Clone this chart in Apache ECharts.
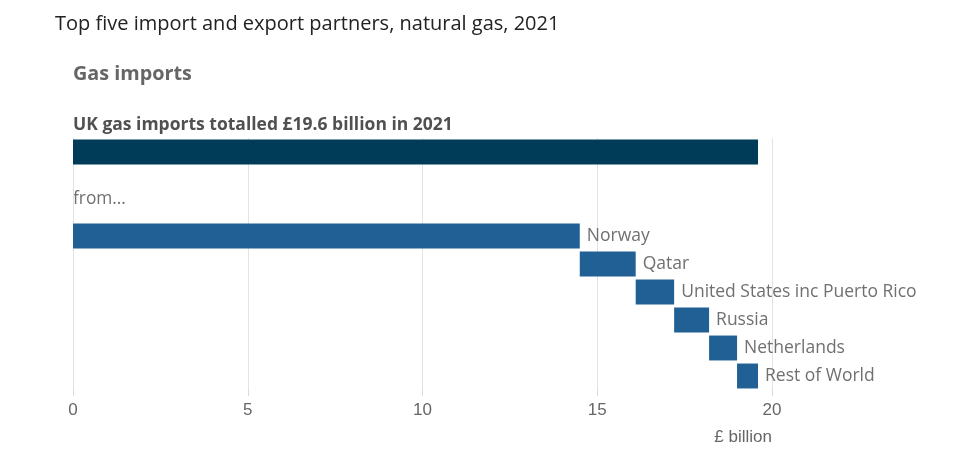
<!DOCTYPE html>
<html><head><meta charset="utf-8">
<script src="https://cdn.jsdelivr.net/npm/echarts@6/dist/echarts.min.js"></script>
<style>html,body{margin:0;padding:0;background:#fff}#c{width:958px;height:457px}</style>
</head><body><div id="c"></div>
<script>
var totalLabel = 'UK gas imports totalled £19.6 billion in 2021';
var totalValue = 19.6;
var partners = ['Norway', 'Qatar', 'United States inc Puerto Rico', 'Russia', 'Netherlands', 'Rest of World'];
var partnerValues = [14.5, 1.6, 1.1, 1.0, 0.8, 0.6];
var xTicks = [0, 5, 10, 15, 20];

var categories = ['Total', 'gap1', 'gap2'].concat(partners);
var baseData = [null, null, null];
var valData = [null, null, null];
var totalData = [totalValue, null, null];
var cum = 0;
partners.forEach(function (p, i) {
  baseData.push(cum);
  valData.push(partnerValues[i]);
  totalData.push(null);
  cum += partnerValues[i];
});

var chart = echarts.init(document.getElementById('c'), null, {renderer: 'canvas'});
var font = "'Open Sans', sans-serif";
var tickFont = "'Liberation Sans', sans-serif";
chart.setOption({
  animation: false,
  textStyle: {fontFamily: font},
  grid: {left: 73, right: 186, top: 138, bottom: 67, containLabel: false},
  xAxis: {
    type: 'value', min: 0, max: 20, interval: 5,
    axisLine: {show: false},
    axisTick: {show: true, length: 6, lineStyle: {color: '#d9d9d9'}},
    splitLine: {show: true, lineStyle: {color: '#e3e3e3', width: 1}},
    axisLabel: {color: '#666', fontSize: 17, fontFamily: tickFont, margin: 12,
      formatter: function (v) { return xTicks.indexOf(v) >= 0 ? String(v) : ''; }}
  },
  yAxis: {
    type: 'category', data: categories, inverse: true,
    axisLine: {show: false}, axisTick: {show: false}, axisLabel: {show: false}
  },
  series: [
    {type: 'bar', stack: 'w', data: baseData, barCategoryGap: '11%', itemStyle: {color: 'transparent'}, silent: true},
    {type: 'bar', stack: 'w', data: valData, barCategoryGap: '11%', itemStyle: {color: '#206095'},
      label: {show: true, position: 'right', distance: 7, color: '#707070', fontSize: 17.5, fontFamily: font,
        formatter: function (p) { return p.name; }}},
    {type: 'bar', stack: 'w', data: totalData, barCategoryGap: '11%', itemStyle: {color: '#003c57'}}
  ],
  graphic: [
    {type: 'text', x: 55, y: 24, style: {text: 'Top five import and export partners, natural gas, 2021', fill: '#222', font: "20px 'Open Sans', sans-serif", verticalAlign: 'middle'}},
    {type: 'text', x: 73, y: 74, style: {text: 'Gas imports', fill: '#666', font: "bold 19.8px 'Open Sans', sans-serif", verticalAlign: 'middle'}},
    {type: 'text', x: 73, y: 125, style: {text: totalLabel, fill: '#505050', font: "bold 17.5px 'Open Sans', sans-serif", verticalAlign: 'middle'}},
    {type: 'text', x: 73, y: 199, style: {text: 'from...', fill: '#707070', font: "17.3px 'Open Sans', sans-serif", verticalAlign: 'middle'}},
    {type: 'text', x: 772, y: 437, style: {text: '£ billion', fill: '#666', font: "17px 'Liberation Sans', sans-serif", align: 'right', verticalAlign: 'middle'}}
  ]
});
</script></body></html>
